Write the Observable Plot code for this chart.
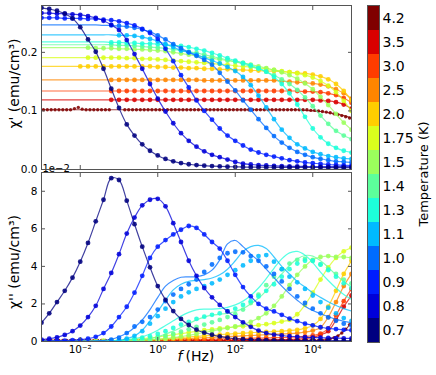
<!DOCTYPE html>
<html><head><meta charset="utf-8">
<script src="https://cdn.jsdelivr.net/npm/d3@7"></script>
<script src="https://cdn.jsdelivr.net/npm/@observablehq/plot@0.6"></script>
<style>
body{margin:0;background:#fff;font-family:"DejaVu Sans",sans-serif;}
#wrap{position:relative;width:436px;height:375px;overflow:hidden;background:#fff;}
#wrap > svg{position:absolute;margin:0;}
</style></head><body><div id="wrap"></div>
<script>
const temps = ["0.7","0.8","0.9","1.0","1.1","1.3","1.4","1.5","1.75","2.0","2.5","3.0","3.5","4.2"];
const tempColors = ["#000080","#0000d9","#001dff","#006cff","#00baff","#1dffda","#5cff9b","#9bff5c","#daff1d","#ffce00","#ff8500","#ff3c00","#d90000","#800000"];
const logF = [-3.0,-2.8,-2.6,-2.4,-2.2,-2.0,-1.8,-1.6,-1.4,-1.2,-1.0,-0.8,-0.6,-0.4,-0.2,0.0,0.2,0.4,0.6,0.8,1.0,1.2,1.4,1.6,1.8,2.0,2.2,2.4,2.6,2.8,3.0,3.2,3.4,3.6,3.8,4.0,4.2,4.4,4.6,4.8,5.0];
const logFDense = [-2.95,-2.85,-2.75,-2.65,-2.55,-2.45,-2.35,-2.25,-2.15,-2.05,-1.95,-1.85,-1.75,-1.65,-1.55,-1.45,-1.35,-1.25,-1.15,-1.05,-0.95,-0.85,-0.75,-0.65,-0.55,-0.45,-0.35,-0.25,-0.15,-0.05,0.05,0.15,0.25,0.35,0.45,0.55,0.65,0.75,0.85,0.95,1.05,1.15,1.25,1.35,1.45,1.55,1.65,1.75,1.85,1.95,2.05,2.15,2.25,2.35,2.45,2.55,2.65,2.75,2.85,2.95,3.05,3.15,3.25,3.35,3.45,3.55,3.65,3.75,3.85,3.95,4.05,4.15,4.25,4.35,4.45,4.55,4.65,4.75,4.85,4.95];
const pointStart = [0,0,0,9,10,9,9,6,6,5,9,9,9,0];

// chi' (emu/cm3)
const chiRe07 = [0.276,0.274,0.271,0.266,0.258,0.243,0.222,0.201,0.172,0.138,0.105,0.077,0.058,0.043,0.032,0.024,0.018,0.014,0.011,0.009,0.0075,0.0065,0.0058,0.0052,0.0048,0.0045,0.0043,0.0041,0.004,0.0039,0.0038,0.0037,0.0036,0.0035,0.0035,0.0034,0.0034,0.0033,0.0033,0.0032,0.0032];
const chiRe08 = [0.267,0.267,0.266,0.266,0.265,0.264,0.262,0.259,0.254,0.247,0.238,0.221,0.197,0.172,0.146,0.121,0.099,0.079,0.062,0.049,0.039,0.031,0.025,0.021,0.017,0.013,0.010,0.0085,0.0075,0.0068,0.0062,0.0058,0.0055,0.0053,0.0052,0.0051,0.005,0.005,0.0049,0.0049,0.0048];
const chiRe09 = [0.259,0.259,0.259,0.258,0.258,0.258,0.257,0.257,0.256,0.255,0.253,0.25,0.246,0.24,0.233,0.223,0.206,0.185,0.161,0.14,0.118,0.1,0.085,0.07,0.058,0.049,0.041,0.034,0.029,0.025,0.022,0.019,0.016,0.014,0.012,0.011,0.0095,0.0085,0.0078,0.0072,0.0068];
const chiRe10 = [0.247,0.247,0.247,0.247,0.247,0.247,0.247,0.247,0.246,0.246,0.245,0.244,0.242,0.239,0.235,0.229,0.222,0.214,0.207,0.2,0.194,0.187,0.179,0.165,0.15,0.135,0.118,0.102,0.086,0.071,0.057,0.046,0.037,0.03,0.025,0.021,0.018,0.016,0.014,0.013,0.012];
const chiRe11 = [0.23,0.23,0.23,0.23,0.23,0.23,0.23,0.23,0.23,0.23,0.229,0.229,0.228,0.226,0.223,0.219,0.214,0.209,0.203,0.2,0.196,0.191,0.186,0.181,0.175,0.168,0.158,0.144,0.126,0.106,0.086,0.068,0.054,0.043,0.036,0.03,0.026,0.023,0.021,0.019,0.018];
const chiRe13 = [0.218,0.218,0.218,0.218,0.218,0.218,0.218,0.218,0.218,0.217,0.217,0.216,0.216,0.215,0.215,0.214,0.213,0.212,0.211,0.209,0.206,0.203,0.199,0.195,0.19,0.186,0.182,0.178,0.173,0.167,0.158,0.146,0.13,0.111,0.09,0.07,0.055,0.044,0.037,0.032,0.029];
const chiRe14 = [0.213,0.213,0.213,0.213,0.213,0.213,0.213,0.213,0.213,0.213,0.212,0.212,0.211,0.21,0.209,0.208,0.207,0.205,0.203,0.201,0.199,0.196,0.193,0.19,0.187,0.184,0.18,0.176,0.172,0.167,0.161,0.154,0.146,0.136,0.123,0.108,0.092,0.078,0.066,0.058,0.052];
const chiRe15 = [0.208,0.208,0.208,0.208,0.208,0.208,0.208,0.207,0.207,0.207,0.206,0.206,0.205,0.205,0.204,0.203,0.202,0.2,0.198,0.196,0.194,0.192,0.19,0.188,0.186,0.184,0.182,0.179,0.176,0.173,0.17,0.166,0.161,0.155,0.147,0.137,0.124,0.11,0.095,0.08,0.068];
const chiRe175 = [0.191,0.191,0.191,0.191,0.191,0.191,0.191,0.191,0.191,0.191,0.191,0.19,0.19,0.189,0.189,0.188,0.187,0.186,0.185,0.184,0.183,0.182,0.181,0.18,0.179,0.177,0.176,0.175,0.173,0.172,0.17,0.168,0.166,0.164,0.161,0.157,0.151,0.143,0.132,0.117,0.1];
const chiRe20 = [0.176,0.176,0.176,0.176,0.176,0.176,0.176,0.176,0.176,0.176,0.176,0.176,0.176,0.176,0.176,0.175,0.175,0.174,0.174,0.173,0.173,0.172,0.172,0.171,0.171,0.17,0.17,0.169,0.169,0.168,0.168,0.167,0.166,0.165,0.164,0.162,0.159,0.154,0.146,0.134,0.118];
const chiRe25 = [0.153,0.153,0.153,0.153,0.153,0.153,0.153,0.153,0.153,0.153,0.153,0.153,0.153,0.153,0.153,0.153,0.153,0.153,0.153,0.153,0.153,0.152,0.152,0.152,0.152,0.152,0.152,0.152,0.152,0.152,0.152,0.151,0.15,0.149,0.148,0.147,0.145,0.142,0.137,0.13,0.121];
const chiRe30 = [0.134,0.134,0.134,0.134,0.134,0.134,0.134,0.134,0.134,0.134,0.134,0.134,0.134,0.134,0.134,0.134,0.134,0.134,0.134,0.134,0.134,0.134,0.134,0.134,0.134,0.134,0.134,0.134,0.134,0.134,0.134,0.134,0.134,0.134,0.133,0.133,0.132,0.13,0.127,0.122,0.114];
const chiRe35 = [0.119,0.119,0.119,0.119,0.119,0.119,0.119,0.119,0.119,0.119,0.119,0.119,0.119,0.119,0.119,0.119,0.119,0.119,0.119,0.119,0.119,0.119,0.119,0.119,0.119,0.119,0.119,0.119,0.119,0.119,0.119,0.119,0.119,0.119,0.119,0.119,0.118,0.117,0.115,0.111,0.104];
const chiRe42 = [0.102,0.102,0.102,0.102,0.102,0.102,0.102,0.102,0.102,0.102,0.102,0.102,0.102,0.102,0.102,0.102,0.102,0.102,0.102,0.102,0.102,0.102,0.102,0.102,0.102,0.102,0.102,0.102,0.102,0.102,0.102,0.102,0.102,0.102,0.101,0.1,0.099,0.097,0.095,0.092,0.088];
const chiReDense42 = [0.102,0.102,0.102,0.102,0.102,0.102,0.102,0.102,0.104,0.106,0.103,0.102,0.102,0.102,0.102,0.102,0.102,0.102,null,null,null,0.102,0.102,0.102,0.102,0.102,0.102,0.102,0.102,0.102,0.102,0.102,0.102,0.102,0.102,0.102,0.102,0.102,0.102,0.102,0.102,0.102,0.102,0.102,0.102,0.102,0.102,0.102,0.102,0.102,0.102,0.102,0.102,0.102,0.102,0.102,0.102,0.102,0.102,0.102,0.102,0.102,0.102,0.102,0.102,0.102,0.102,0.102,0.102,0.101,0.101,0.1,0.099,0.098,0.097,0.095,0.094,0.092,0.09,0.088];

// chi'' (x1e-2 emu/cm3)
const chiIm07 = [1.0,1.5,2.1,2.7,3.4,4.25,5.25,6.4,7.55,8.7,8.6,7.5,6.25,5.05,3.95,2.95,2.22,1.62,1.2,0.88,0.63,0.47,0.36,0.27,0.2,0.15,0.12,0.1,0.08,0.07,0.06,0.06,0.055,0.05,0.05,0.05,0.05,0.05,0.05,0.05,0.05];
const chiIm08 = [0.1,0.15,0.22,0.35,0.55,0.85,1.3,1.9,2.8,3.65,4.65,5.75,6.6,7.25,7.55,7.6,7.2,6.3,5.3,4.3,3.5,2.85,2.35,1.95,1.6,1.3,1.02,0.78,0.58,0.45,0.37,0.32,0.28,0.25,0.23,0.21,0.2,0.19,0.18,0.17,0.17];
const chiIm09 = [0.02,0.03,0.04,0.05,0.07,0.1,0.15,0.25,0.45,0.8,1.3,1.85,2.6,3.5,4.45,5.05,5.4,5.7,5.95,6.15,6.05,5.7,5.3,4.95,4.3,3.55,2.9,2.4,2.0,1.75,1.6,1.42,1.22,1.08,0.95,0.86,0.76,0.7,0.66,0.62,0.6];
const chiIm10 = [0.01,0.01,0.01,0.01,0.015,0.02,0.025,0.03,0.06,0.12,0.25,0.45,0.75,1.15,1.7,2.35,2.95,3.25,3.42,3.44,3.45,3.55,3.8,4.35,5.2,5.38,5.05,4.65,4.3,3.85,3.4,2.95,2.55,2.2,1.88,1.65,1.48,1.32,1.18,1.08,1.0];
const chiImPts10 = [null,null,null,null,null,null,null,null,null,0.1,0.2,0.45,0.8,1.05,1.3,1.7,2.15,2.5,2.8,3.05,3.3,3.7,4.1,4.45,4.7,4.78,4.75,4.55,4.3,4.0,3.6,3.2,2.8,2.4,2.05,1.75,1.5,1.28,1.1,0.95,0.85];
const chiIm11 = [0.005,0.005,0.005,0.005,0.005,0.01,0.01,0.015,0.02,0.03,0.05,0.15,0.3,0.6,1.1,1.6,2.2,2.75,3.05,3.2,3.25,3.3,3.38,3.55,3.85,4.3,4.8,5.05,5.12,4.95,4.5,4.0,3.6,3.2,2.9,2.6,2.35,2.12,1.92,1.75,1.62];
const chiImPts11 = [null,null,null,null,null,null,null,null,null,null,0.05,0.15,0.3,0.55,0.95,1.35,1.75,2.1,2.4,2.62,2.8,2.95,3.1,3.3,3.55,3.8,4.05,4.3,4.55,4.6,4.25,3.85,3.45,3.15,2.8,2.45,2.1,1.8,1.5,1.25,1.1];
const chiIm13 = [0.005,0.005,0.005,0.005,0.005,0.005,0.01,0.01,0.02,0.03,0.05,0.08,0.15,0.25,0.4,0.6,0.85,1.1,1.35,1.55,1.68,1.72,1.72,1.75,1.82,1.95,2.15,2.45,2.85,3.35,3.9,4.4,4.72,4.8,4.6,4.2,3.7,3.25,2.85,2.5,2.25];
const chiImPts13 = [null,null,null,null,null,null,null,null,null,0.05,0.07,0.1,0.14,0.2,0.28,0.4,0.55,0.72,0.9,1.05,1.2,1.32,1.42,1.5,1.62,1.75,1.95,2.15,2.4,2.7,3.05,3.45,3.85,4.15,4.3,4.3,4.1,3.8,3.45,3.1,2.85];
const chiIm14 = [0.005,0.005,0.005,0.005,0.005,0.005,0.005,0.005,0.005,0.005,0.02,0.03,0.05,0.09,0.15,0.25,0.4,0.55,0.75,0.95,1.15,1.3,1.4,1.45,1.5,1.6,1.75,2.0,2.3,2.7,3.15,3.6,4.05,4.4,4.58,4.55,4.3,3.95,3.55,3.2,2.9];
const chiImPts14 = [null,null,null,null,null,null,null,null,null,0.02,0.03,0.04,0.06,0.09,0.13,0.2,0.3,0.4,0.52,0.65,0.78,0.9,1.02,1.15,1.3,1.45,1.7,2.05,2.5,3.0,3.45,3.85,4.15,4.35,4.4,4.3,4.1,3.85,3.6,3.3,3.1];
const chiIm15 = [0.005,0.005,0.005,0.005,0.005,0.005,0.01,0.01,0.01,0.02,0.02,0.03,0.04,0.06,0.08,0.11,0.15,0.2,0.26,0.33,0.4,0.48,0.56,0.64,0.72,0.8,0.9,1.05,1.25,1.5,1.9,2.4,3.0,3.55,4.0,4.35,4.5,4.55,4.5,4.5,4.45];
const chiIm175 = [0.01,0.01,0.01,0.01,0.01,0.02,0.02,0.03,0.04,0.05,0.07,0.09,0.12,0.15,0.19,0.24,0.3,0.36,0.42,0.48,0.54,0.6,0.65,0.7,0.74,0.78,0.81,0.84,0.87,0.92,0.98,1.06,1.15,1.45,1.95,2.6,3.3,3.95,4.45,4.8,5.0];
const chiIm20 = [0.01,0.01,0.01,0.01,0.01,0.01,0.015,0.02,0.025,0.03,0.04,0.05,0.065,0.08,0.1,0.12,0.15,0.18,0.21,0.24,0.27,0.3,0.33,0.36,0.39,0.42,0.45,0.47,0.49,0.51,0.53,0.55,0.58,0.62,0.7,0.85,1.2,1.85,2.7,3.6,4.3];
const chiIm25 = [0.01,0.01,0.01,0.01,0.01,0.01,0.01,0.015,0.02,0.025,0.03,0.04,0.05,0.06,0.07,0.08,0.1,0.12,0.14,0.16,0.18,0.2,0.22,0.24,0.26,0.28,0.3,0.32,0.34,0.36,0.38,0.4,0.42,0.45,0.5,0.58,0.75,1.3,2.1,2.95,3.6];
const chiIm30 = [0.01,0.01,0.01,0.01,0.01,0.01,0.01,0.01,0.01,0.01,0.015,0.02,0.025,0.03,0.04,0.05,0.06,0.07,0.08,0.09,0.1,0.11,0.12,0.13,0.14,0.15,0.16,0.17,0.18,0.19,0.2,0.21,0.22,0.24,0.27,0.32,0.42,0.7,1.4,2.15,2.8];
const chiIm35 = [0.01,0.01,0.01,0.01,0.01,0.01,0.01,0.01,0.01,0.01,0.01,0.01,0.01,0.01,0.01,0.015,0.02,0.025,0.03,0.035,0.04,0.045,0.05,0.055,0.06,0.065,0.07,0.075,0.08,0.085,0.09,0.1,0.11,0.13,0.16,0.22,0.35,0.55,1.15,1.85,2.45];
const chiIm42 = [0.05,0.05,0.05,0.05,0.05,0.05,0.05,0.05,0.05,0.05,0.05,0.05,0.05,0.05,0.05,0.05,0.05,0.05,0.05,0.05,0.05,0.05,0.05,0.05,0.05,0.05,0.05,0.05,0.05,0.05,0.05,0.05,0.05,0.05,0.05,0.05,0.07,0.12,0.25,0.55,1.0];
const chiImDense42 = [0.06,0.06,0.06,0.06,0.06,0.06,0.06,0.06,0.06,0.06,0.06,0.06,0.06,0.06,0.06,0.06,0.06,0.06,null,null,null,0.06,0.06,0.06,0.06,0.06,0.06,0.06,0.06,0.06,0.06,0.06,0.06,0.06,0.06,0.06,0.06,0.06,0.06,0.06,0.06,0.06,0.06,0.06,0.06,0.06,0.06,0.06,0.06,0.06,0.06,0.06,0.06,0.06,0.06,0.06,0.06,0.06,0.06,0.06,0.06,0.06,0.06,0.06,0.06,0.06,0.06,0.06,0.06,0.06,0.06,0.06,0.06,0.1,0.14,0.2,0.3,0.45,0.65,0.9];

const xTicks = [0.01, 1, 100, 10000];
const xTickLabels = ["10\u207B\u00B2", "10\u2070", "10\u00B2", "10\u2074"];
const yTicksTop = [0, 0.1, 0.2];
const yTickLabelsTop = ["0.0", "0.1", "0.2"];
const yTicksBottom = [0, 2, 4, 6, 8];
const yTickLabelsBottom = ["0", "2", "4", "6", "8"];

const seriesRe = [chiRe07, chiRe08, chiRe09, chiRe10, chiRe11, chiRe13, chiRe14, chiRe15, chiRe175, chiRe20, chiRe25, chiRe30, chiRe35, chiRe42];
const seriesIm = [chiIm07, chiIm08, chiIm09, chiIm10, chiIm11, chiIm13, chiIm14, chiIm15, chiIm175, chiIm20, chiIm25, chiIm30, chiIm35, chiIm42];
const seriesImPts = [null, null, null, chiImPts10, chiImPts11, chiImPts13, chiImPts14, null, null, null, null, null, null, null];

const gray = "#555";
const font = "DejaVu Sans, sans-serif";

function lineData(vals) {
  return logF.map((lf, i) => ({f: Math.pow(10, lf), v: vals[i]}));
}
function pointData(k, vals) {
  return logF.map((lf, i) => ({f: Math.pow(10, lf), v: vals[i], i}))
    .filter(d => d.i >= pointStart[k] && d.v != null);
}
function denseData(vals) {
  return logFDense.map((lf, i) => ({f: Math.pow(10, lf), v: vals[i]})).filter(d => d.v != null);
}
function seriesMarks(lineArrs, ptsArrs, denseArr) {
  const out = [];
  for (let k = temps.length - 1; k >= 0; k--) {
    out.push(Plot.line(lineData(lineArrs[k]), {x: "f", y: "v", stroke: tempColors[k], strokeWidth: 1.2, strokeOpacity: 0.75, curve: "catmull-rom", clip: true}));
    const pts = k === 13 ? denseData(denseArr) : pointData(k, ptsArrs[k] || lineArrs[k]);
    out.push(Plot.dot(pts, {x: "f", y: "v", r: k === 13 ? 1.7 : 2.4, fill: tempColors[k], fillOpacity: 0.88, clip: true}));
  }
  return out;
}
function tickMarks(yTicks) {
  return [
    Plot.axisX(xTicks, {anchor: "bottom", tickSize: 4, dy: -4, stroke: gray, fill: "none", label: null}),
    Plot.axisX(xTicks, {anchor: "top", tickSize: 4, dy: 4, stroke: gray, fill: "none", label: null}),
    Plot.axisY(yTicks, {anchor: "left", tickSize: 4, dx: 4, stroke: gray, fill: "none", label: null}),
    Plot.axisY(yTicks, {anchor: "right", tickSize: 4, dx: -4, stroke: gray, fill: "none", label: null}),
    Plot.frame({stroke: gray})
  ];
}
const baseStyle = {fontFamily: font, fontSize: "10.5px", background: "transparent", overflow: "visible", color: "black"};

const topPlot = Plot.plot({
  width: 360, height: 178, marginLeft: 41, marginRight: 9, marginTop: 5, marginBottom: 9,
  x: {type: "log", domain: [1e-3, 1e5]},
  y: {domain: [0, 0.28]},
  style: baseStyle,
  marks: [
    ...seriesMarks(seriesRe, [], chiReDense42),
    ...tickMarks(yTicksTop),
    Plot.axisY(yTicksTop, {anchor: "left", tickSize: 0, tickPadding: 4, tickFormat: d => yTickLabelsTop[yTicksTop.indexOf(d)], label: null}),
    Plot.text(["\u03C7' (emu/cm\u00B3)"], {frameAnchor: "left", textAnchor: "middle", rotate: -90, dx: -27, dy: -4, fontSize: 14})
  ]
});

const bottomPlot = Plot.plot({
  width: 360, height: 220, marginLeft: 41, marginRight: 9, marginTop: 17, marginBottom: 34,
  x: {type: "log", domain: [1e-3, 1e5]},
  y: {domain: [0, 9]},
  style: baseStyle,
  marks: [
    ...seriesMarks(seriesIm, seriesImPts, chiImDense42),
    ...tickMarks(yTicksBottom),
    Plot.axisY(yTicksBottom, {anchor: "left", tickSize: 0, tickPadding: 4, tickFormat: d => yTickLabelsBottom[yTicksBottom.indexOf(d)], label: null}),
    Plot.axisX(xTicks, {anchor: "bottom", tickSize: 0, tickPadding: 4, tickFormat: d => xTickLabels[xTicks.indexOf(d)], label: null}),
    Plot.text(["1e\u22122"], {frameAnchor: "top-left", textAnchor: "start", lineAnchor: "bottom", dx: 1, dy: -1, fontSize: 10}),
    Plot.text(["\u03C7'' (emu/cm\u00B3)"], {frameAnchor: "left", textAnchor: "middle", rotate: -90, dx: -27, dy: 5, fontSize: 14}),
    Plot.text(["f"], {frameAnchor: "bottom", textAnchor: "end", dx: -14, dy: 19, fontSize: 14, fontStyle: "italic"}),
    Plot.text(["(Hz)"], {frameAnchor: "bottom", textAnchor: "start", dx: -11, dy: 19, fontSize: 14})
  ]
});

const tempsDesc = temps.slice().reverse();
const cbarPlot = Plot.plot({
  width: 76, height: 375, marginLeft: 7, marginRight: 57, marginTop: 5, marginBottom: 33,
  x: {domain: ["c"], axis: null, padding: 0},
  y: {domain: tempsDesc, padding: 0},
  color: {domain: temps, range: tempColors},
  style: {fontFamily: font, fontSize: "14px", background: "transparent", overflow: "visible", color: "black"},
  marks: [
    Plot.cell(temps, {x: () => "c", y: d => d, fill: d => d, inset: 0}),
    Plot.frame({stroke: gray}),
    Plot.axisY({anchor: "right", tickSize: 0, tickPadding: 3, label: null}),
    Plot.text(["Temperature (K)"], {frameAnchor: "right", textAnchor: "middle", dx: 44, rotate: -90, fontSize: 13})
  ]
});

const wrap = document.getElementById("wrap");
bottomPlot.style.left = "0px"; bottomPlot.style.top = "155px";
topPlot.style.left = "0px"; topPlot.style.top = "0px";
cbarPlot.style.left = "360px"; cbarPlot.style.top = "0px";
wrap.appendChild(bottomPlot);
wrap.appendChild(topPlot);
wrap.appendChild(cbarPlot);
</script>
</body></html>
